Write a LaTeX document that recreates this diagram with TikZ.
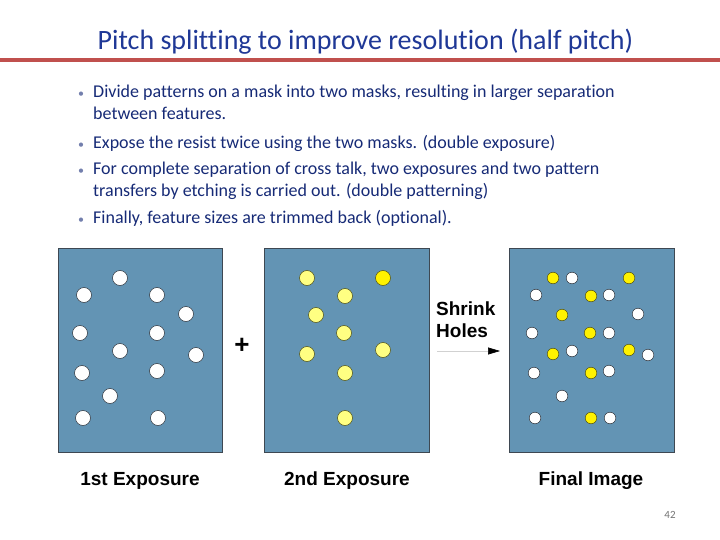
\documentclass[tikz,border=0pt]{standalone}
\usepackage{fontspec}
\setmainfont{Carlito}[Ligatures=NoCommon]
\newfontfamily\labelfont{Liberation Sans}
\usepackage{tikz}
\usetikzlibrary{arrows.meta}

\definecolor{maskblue}{RGB}{99,148,180}
\definecolor{maskedge}{RGB}{62,72,82}
\definecolor{holeedge}{RGB}{45,52,60}
\definecolor{paleyellow}{RGB}{255,255,130}
\definecolor{olive}{RGB}{80,80,20}
\definecolor{titleblue}{RGB}{31,56,150}
\definecolor{textblue}{RGB}{22,42,118}
\definecolor{rulered}{RGB}{192,80,77}

\begin{document}
\begin{tikzpicture}[x=1pt, y=-1pt,
    mask/.style={draw=maskedge, line width=0.8pt, fill=maskblue},
    hole/.style={draw=holeedge, line width=0.5pt, fill=white},
    dot/.style={draw=olive, line width=0.5pt, fill=paleyellow},
    sharp/.style={draw=olive, line width=0.5pt, fill=yellow},
    caption/.style={anchor=base, inner sep=0pt, font=\labelfont\bfseries\fontsize{19}{22}\selectfont},
    bullet/.style={anchor=base west, text=textblue,
        font=\fontsize{18}{21}\selectfont, inner sep=0pt}]
    \useasboundingbox (0, 0) rectangle (720, 540); % page

    % title and rule
    \node[anchor=base, inner sep=0pt, text=titleblue, font=\fontsize{28}{32}\selectfont] (title) at (365.5, 50)
        {Pitch splitting to improve resolution (half pitch)};
    \fill[rulered] (0, 57.7) rectangle (720, 61.7);

    % bullets
    \foreach \name/\y in {d1/98, d2/148.5, d3/175, d4/224}
        \node[anchor=base, text=textblue!60, font=\fontsize{12}{12}\selectfont, inner sep=0pt] (\name) at (81, \y) {\textbullet};
    \node[bullet] (b1) at (93, 98) {Divide patterns on a mask into two masks, resulting in larger separation};
    \node[bullet] (b1b) at (93, 119.5) {between features.};
    \node[bullet] (b2) at (93, 148.5) {Expose the resist twice using the two masks. (double exposure)};
    \node[bullet] (b3) at (93, 175) {For complete separation of cross talk, two exposures and two pattern};
    \node[bullet] (b3b) at (93, 196.5) {transfers by etching is carried out. (double patterning)};
    \node[bullet] (b4) at (93, 224) {Finally, feature sizes are trimmed back (optional).};

    % 1st exposure mask
    \draw[mask] (58, 248) rectangle (222, 452);
    \begin{scope}[shift={(58, 248)}]
        \foreach \x/\y in {62/30, 26/47, 99/47, 128/66, 22/85, 99/85, 62/103,
                138/107, 24/125, 99/123, 52/148, 25/170, 100/170}
            \draw[hole] (\x, \y) circle[radius=7.5];
    \end{scope}

    % 2nd exposure mask
    \draw[mask] (264, 248) rectangle (429, 452);
    \begin{scope}[shift={(264, 248)}]
        \foreach \x/\y in {43/30, 81/48, 52/67, 80/85, 43/106, 119/102, 81/125, 81/170}
            \draw[dot] (\x, \y) circle[radius=7.5];
        \draw[sharp] (119, 30) circle[radius=7.5];
    \end{scope}

    % final image
    \draw[mask] (509, 248) rectangle (674, 452);
    \begin{scope}[shift={(509, 248)}]
        \foreach \x/\y in {62/30, 26/47, 99/47, 128/66, 22/85, 99/85, 62/103,
                138/107, 24/125, 99/123, 52/148, 25/170, 100/170}
            \draw[hole] (\x+1, \y) circle[radius=5.8];
        \foreach \x/\y in {43/30, 119/30, 81/48, 52/67, 80/85, 43/106, 119/102, 81/125, 81/170}
            \draw[sharp] (\x+1, \y) circle[radius=5.8];
    \end{scope}

    % plus and shrink step
    \node[font=\labelfont\bfseries\fontsize{26}{26}\selectfont] (plus) at (242, 346) {+};
    \node[caption, anchor=base west] (shrink) at (436, 315) {Shrink};
    \node[caption, anchor=base west] (holes) at (436, 337) {Holes};
    \coordinate (from) at (437, 351);
    \coordinate (to) at (500, 351);
    \draw[black!18, line width=0.6pt, -{Triangle[length=12pt, width=7pt, color=black]}] (from) -- (to);

    % captions
    \node[caption] (cap1) at (140, 485) {1st Exposure};
    \node[caption] (cap2) at (347, 485) {2nd Exposure};
    \node[caption] (cap3) at (591, 485) {Final Image};

    \node[text=black!55, font=\fontsize{11}{12}\selectfont] (page) at (670, 515) {42};
\end{tikzpicture}
\end{document}
